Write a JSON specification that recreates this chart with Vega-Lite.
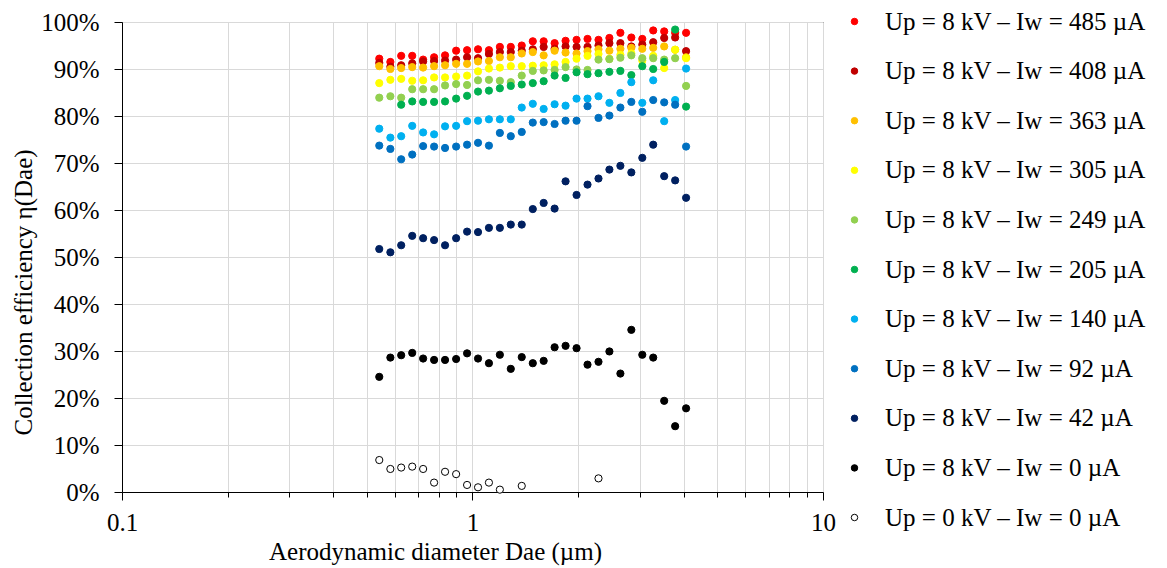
{
  "$schema": "https://vega.github.io/schema/vega-lite/v6.json",
  "autosize": {"type": "none"},
  "padding": {"left": 122, "top": 22, "right": 344, "bottom": 76},
  "width": 701,
  "height": 470,
  "background": "white",
  "config": {
    "view": {"stroke": "#000000", "strokeWidth": 1},
    "font": "Liberation Serif",
    "axis": {"labelFont": "Liberation Serif", "titleFont": "Liberation Serif", "labelFontSize": 25, "titleFontSize": 25, "labelColor": "#000000", "titleColor": "#000000", "titleFontWeight": "normal", "domainColor": "#000000", "domainWidth": 1, "tickColor": "#000000", "tickWidth": 1, "gridColor": "#D9D9D9", "gridWidth": 1},
    "legend": {"labelFont": "Liberation Serif", "labelFontSize": 25, "labelColor": "#000000", "labelLimit": 400}
  },
  "datasets": {
    "pts": [
      {"series": "Up = 8 kV – Iw = 485 µA", "d": 0.542, "e": 92.2},
      {"series": "Up = 8 kV – Iw = 485 µA", "d": 0.583, "e": 91.5},
      {"series": "Up = 8 kV – Iw = 485 µA", "d": 0.626, "e": 92.8},
      {"series": "Up = 8 kV – Iw = 485 µA", "d": 0.673, "e": 92.8},
      {"series": "Up = 8 kV – Iw = 485 µA", "d": 0.723, "e": 92.0},
      {"series": "Up = 8 kV – Iw = 485 µA", "d": 0.777, "e": 92.5},
      {"series": "Up = 8 kV – Iw = 485 µA", "d": 0.835, "e": 92.9},
      {"series": "Up = 8 kV – Iw = 485 µA", "d": 0.898, "e": 93.9},
      {"series": "Up = 8 kV – Iw = 485 µA", "d": 0.965, "e": 94.0},
      {"series": "Up = 8 kV – Iw = 485 µA", "d": 1.037, "e": 94.2},
      {"series": "Up = 8 kV – Iw = 485 µA", "d": 1.114, "e": 94.0},
      {"series": "Up = 8 kV – Iw = 485 µA", "d": 1.197, "e": 94.7},
      {"series": "Up = 8 kV – Iw = 485 µA", "d": 1.286, "e": 94.7},
      {"series": "Up = 8 kV – Iw = 485 µA", "d": 1.382, "e": 95.0},
      {"series": "Up = 8 kV – Iw = 485 µA", "d": 1.486, "e": 95.9},
      {"series": "Up = 8 kV – Iw = 485 µA", "d": 1.596, "e": 95.9},
      {"series": "Up = 8 kV – Iw = 485 µA", "d": 1.715, "e": 95.5},
      {"series": "Up = 8 kV – Iw = 485 µA", "d": 1.843, "e": 96.0},
      {"series": "Up = 8 kV – Iw = 485 µA", "d": 1.981, "e": 96.2},
      {"series": "Up = 8 kV – Iw = 485 µA", "d": 2.129, "e": 96.4},
      {"series": "Up = 8 kV – Iw = 485 µA", "d": 2.288, "e": 96.2},
      {"series": "Up = 8 kV – Iw = 485 µA", "d": 2.458, "e": 96.6},
      {"series": "Up = 8 kV – Iw = 485 µA", "d": 2.642, "e": 97.7},
      {"series": "Up = 8 kV – Iw = 485 µA", "d": 2.839, "e": 96.7},
      {"series": "Up = 8 kV – Iw = 485 µA", "d": 3.051, "e": 96.4},
      {"series": "Up = 8 kV – Iw = 485 µA", "d": 3.278, "e": 98.2},
      {"series": "Up = 8 kV – Iw = 485 µA", "d": 3.523, "e": 98.0},
      {"series": "Up = 8 kV – Iw = 485 µA", "d": 3.786, "e": 97.7},
      {"series": "Up = 8 kV – Iw = 485 µA", "d": 4.068, "e": 97.7},
      {"series": "Up = 8 kV – Iw = 408 µA", "d": 0.542, "e": 91.3},
      {"series": "Up = 8 kV – Iw = 408 µA", "d": 0.583, "e": 90.5},
      {"series": "Up = 8 kV – Iw = 408 µA", "d": 0.626, "e": 90.8},
      {"series": "Up = 8 kV – Iw = 408 µA", "d": 0.673, "e": 91.2},
      {"series": "Up = 8 kV – Iw = 408 µA", "d": 0.723, "e": 91.6},
      {"series": "Up = 8 kV – Iw = 408 µA", "d": 0.777, "e": 91.7},
      {"series": "Up = 8 kV – Iw = 408 µA", "d": 0.835, "e": 91.8},
      {"series": "Up = 8 kV – Iw = 408 µA", "d": 0.898, "e": 92.0},
      {"series": "Up = 8 kV – Iw = 408 µA", "d": 0.965, "e": 92.5},
      {"series": "Up = 8 kV – Iw = 408 µA", "d": 1.037, "e": 92.3},
      {"series": "Up = 8 kV – Iw = 408 µA", "d": 1.114, "e": 93.2},
      {"series": "Up = 8 kV – Iw = 408 µA", "d": 1.197, "e": 93.6},
      {"series": "Up = 8 kV – Iw = 408 µA", "d": 1.286, "e": 93.6},
      {"series": "Up = 8 kV – Iw = 408 µA", "d": 1.382, "e": 93.9},
      {"series": "Up = 8 kV – Iw = 408 µA", "d": 1.486, "e": 94.2},
      {"series": "Up = 8 kV – Iw = 408 µA", "d": 1.596, "e": 94.7},
      {"series": "Up = 8 kV – Iw = 408 µA", "d": 1.715, "e": 94.3},
      {"series": "Up = 8 kV – Iw = 408 µA", "d": 1.843, "e": 94.8},
      {"series": "Up = 8 kV – Iw = 408 µA", "d": 1.981, "e": 94.7},
      {"series": "Up = 8 kV – Iw = 408 µA", "d": 2.129, "e": 94.7},
      {"series": "Up = 8 kV – Iw = 408 µA", "d": 2.288, "e": 95.0},
      {"series": "Up = 8 kV – Iw = 408 µA", "d": 2.458, "e": 95.5},
      {"series": "Up = 8 kV – Iw = 408 µA", "d": 2.642, "e": 95.5},
      {"series": "Up = 8 kV – Iw = 408 µA", "d": 2.839, "e": 94.8},
      {"series": "Up = 8 kV – Iw = 408 µA", "d": 3.051, "e": 95.2},
      {"series": "Up = 8 kV – Iw = 408 µA", "d": 3.278, "e": 95.7},
      {"series": "Up = 8 kV – Iw = 408 µA", "d": 3.523, "e": 96.6},
      {"series": "Up = 8 kV – Iw = 408 µA", "d": 3.786, "e": 96.7},
      {"series": "Up = 8 kV – Iw = 408 µA", "d": 4.068, "e": 93.8},
      {"series": "Up = 8 kV – Iw = 363 µA", "d": 0.542, "e": 90.6},
      {"series": "Up = 8 kV – Iw = 363 µA", "d": 0.583, "e": 90.0},
      {"series": "Up = 8 kV – Iw = 363 µA", "d": 0.626, "e": 90.2},
      {"series": "Up = 8 kV – Iw = 363 µA", "d": 0.673, "e": 90.4},
      {"series": "Up = 8 kV – Iw = 363 µA", "d": 0.723, "e": 90.3},
      {"series": "Up = 8 kV – Iw = 363 µA", "d": 0.777, "e": 90.6},
      {"series": "Up = 8 kV – Iw = 363 µA", "d": 0.835, "e": 90.8},
      {"series": "Up = 8 kV – Iw = 363 µA", "d": 0.898, "e": 91.1},
      {"series": "Up = 8 kV – Iw = 363 µA", "d": 0.965, "e": 91.1},
      {"series": "Up = 8 kV – Iw = 363 µA", "d": 1.037, "e": 91.6},
      {"series": "Up = 8 kV – Iw = 363 µA", "d": 1.114, "e": 91.7},
      {"series": "Up = 8 kV – Iw = 363 µA", "d": 1.197, "e": 92.5},
      {"series": "Up = 8 kV – Iw = 363 µA", "d": 1.286, "e": 92.5},
      {"series": "Up = 8 kV – Iw = 363 µA", "d": 1.382, "e": 93.3},
      {"series": "Up = 8 kV – Iw = 363 µA", "d": 1.486, "e": 93.6},
      {"series": "Up = 8 kV – Iw = 363 µA", "d": 1.596, "e": 92.9},
      {"series": "Up = 8 kV – Iw = 363 µA", "d": 1.715, "e": 93.9},
      {"series": "Up = 8 kV – Iw = 363 µA", "d": 1.843, "e": 93.5},
      {"series": "Up = 8 kV – Iw = 363 µA", "d": 1.981, "e": 93.3},
      {"series": "Up = 8 kV – Iw = 363 µA", "d": 2.129, "e": 93.8},
      {"series": "Up = 8 kV – Iw = 363 µA", "d": 2.288, "e": 94.2},
      {"series": "Up = 8 kV – Iw = 363 µA", "d": 2.458, "e": 93.9},
      {"series": "Up = 8 kV – Iw = 363 µA", "d": 2.642, "e": 94.3},
      {"series": "Up = 8 kV – Iw = 363 µA", "d": 2.839, "e": 94.5},
      {"series": "Up = 8 kV – Iw = 363 µA", "d": 3.051, "e": 94.3},
      {"series": "Up = 8 kV – Iw = 363 µA", "d": 3.278, "e": 94.5},
      {"series": "Up = 8 kV – Iw = 363 µA", "d": 3.523, "e": 94.8},
      {"series": "Up = 8 kV – Iw = 363 µA", "d": 3.786, "e": 94.1},
      {"series": "Up = 8 kV – Iw = 363 µA", "d": 4.068, "e": 92.5},
      {"series": "Up = 8 kV – Iw = 305 µA", "d": 0.542, "e": 87.0},
      {"series": "Up = 8 kV – Iw = 305 µA", "d": 0.583, "e": 87.7},
      {"series": "Up = 8 kV – Iw = 305 µA", "d": 0.626, "e": 87.9},
      {"series": "Up = 8 kV – Iw = 305 µA", "d": 0.673, "e": 87.5},
      {"series": "Up = 8 kV – Iw = 305 µA", "d": 0.723, "e": 87.6},
      {"series": "Up = 8 kV – Iw = 305 µA", "d": 0.777, "e": 88.2},
      {"series": "Up = 8 kV – Iw = 305 µA", "d": 0.835, "e": 88.2},
      {"series": "Up = 8 kV – Iw = 305 µA", "d": 0.898, "e": 88.4},
      {"series": "Up = 8 kV – Iw = 305 µA", "d": 0.965, "e": 88.6},
      {"series": "Up = 8 kV – Iw = 305 µA", "d": 1.037, "e": 89.5},
      {"series": "Up = 8 kV – Iw = 305 µA", "d": 1.114, "e": 90.1},
      {"series": "Up = 8 kV – Iw = 305 µA", "d": 1.197, "e": 90.3},
      {"series": "Up = 8 kV – Iw = 305 µA", "d": 1.286, "e": 90.6},
      {"series": "Up = 8 kV – Iw = 305 µA", "d": 1.382, "e": 90.6},
      {"series": "Up = 8 kV – Iw = 305 µA", "d": 1.486, "e": 90.7},
      {"series": "Up = 8 kV – Iw = 305 µA", "d": 1.596, "e": 90.8},
      {"series": "Up = 8 kV – Iw = 305 µA", "d": 1.715, "e": 91.0},
      {"series": "Up = 8 kV – Iw = 305 µA", "d": 1.843, "e": 91.5},
      {"series": "Up = 8 kV – Iw = 305 µA", "d": 1.981, "e": 92.2},
      {"series": "Up = 8 kV – Iw = 305 µA", "d": 2.129, "e": 92.8},
      {"series": "Up = 8 kV – Iw = 305 µA", "d": 2.288, "e": 93.2},
      {"series": "Up = 8 kV – Iw = 305 µA", "d": 2.458, "e": 92.2},
      {"series": "Up = 8 kV – Iw = 305 µA", "d": 2.642, "e": 93.0},
      {"series": "Up = 8 kV – Iw = 305 µA", "d": 2.839, "e": 93.3},
      {"series": "Up = 8 kV – Iw = 305 µA", "d": 3.051, "e": 91.8},
      {"series": "Up = 8 kV – Iw = 305 µA", "d": 3.278, "e": 92.8},
      {"series": "Up = 8 kV – Iw = 305 µA", "d": 3.523, "e": 90.2},
      {"series": "Up = 8 kV – Iw = 305 µA", "d": 3.786, "e": 94.1},
      {"series": "Up = 8 kV – Iw = 305 µA", "d": 4.068, "e": 92.3},
      {"series": "Up = 8 kV – Iw = 249 µA", "d": 0.542, "e": 83.9},
      {"series": "Up = 8 kV – Iw = 249 µA", "d": 0.583, "e": 84.2},
      {"series": "Up = 8 kV – Iw = 249 µA", "d": 0.626, "e": 83.9},
      {"series": "Up = 8 kV – Iw = 249 µA", "d": 0.673, "e": 85.7},
      {"series": "Up = 8 kV – Iw = 249 µA", "d": 0.723, "e": 85.7},
      {"series": "Up = 8 kV – Iw = 249 µA", "d": 0.777, "e": 85.7},
      {"series": "Up = 8 kV – Iw = 249 µA", "d": 0.835, "e": 86.5},
      {"series": "Up = 8 kV – Iw = 249 µA", "d": 0.898, "e": 86.8},
      {"series": "Up = 8 kV – Iw = 249 µA", "d": 0.965, "e": 86.6},
      {"series": "Up = 8 kV – Iw = 249 µA", "d": 1.037, "e": 87.6},
      {"series": "Up = 8 kV – Iw = 249 µA", "d": 1.114, "e": 87.7},
      {"series": "Up = 8 kV – Iw = 249 µA", "d": 1.197, "e": 87.5},
      {"series": "Up = 8 kV – Iw = 249 µA", "d": 1.286, "e": 87.2},
      {"series": "Up = 8 kV – Iw = 249 µA", "d": 1.382, "e": 88.6},
      {"series": "Up = 8 kV – Iw = 249 µA", "d": 1.486, "e": 89.6},
      {"series": "Up = 8 kV – Iw = 249 µA", "d": 1.596, "e": 89.7},
      {"series": "Up = 8 kV – Iw = 249 µA", "d": 1.715, "e": 89.8},
      {"series": "Up = 8 kV – Iw = 249 µA", "d": 1.843, "e": 90.4},
      {"series": "Up = 8 kV – Iw = 249 µA", "d": 1.981, "e": 89.9},
      {"series": "Up = 8 kV – Iw = 249 µA", "d": 2.129, "e": 89.8},
      {"series": "Up = 8 kV – Iw = 249 µA", "d": 2.288, "e": 92.0},
      {"series": "Up = 8 kV – Iw = 249 µA", "d": 2.458, "e": 92.1},
      {"series": "Up = 8 kV – Iw = 249 µA", "d": 2.642, "e": 92.4},
      {"series": "Up = 8 kV – Iw = 249 µA", "d": 2.839, "e": 92.9},
      {"series": "Up = 8 kV – Iw = 249 µA", "d": 3.051, "e": 92.3},
      {"series": "Up = 8 kV – Iw = 249 µA", "d": 3.278, "e": 92.3},
      {"series": "Up = 8 kV – Iw = 249 µA", "d": 3.523, "e": 92.0},
      {"series": "Up = 8 kV – Iw = 249 µA", "d": 3.786, "e": 92.3},
      {"series": "Up = 8 kV – Iw = 249 µA", "d": 4.068, "e": 86.4},
      {"series": "Up = 8 kV – Iw = 205 µA", "d": 0.626, "e": 82.4},
      {"series": "Up = 8 kV – Iw = 205 µA", "d": 0.673, "e": 83.1},
      {"series": "Up = 8 kV – Iw = 205 µA", "d": 0.723, "e": 83.0},
      {"series": "Up = 8 kV – Iw = 205 µA", "d": 0.777, "e": 83.0},
      {"series": "Up = 8 kV – Iw = 205 µA", "d": 0.835, "e": 83.1},
      {"series": "Up = 8 kV – Iw = 205 µA", "d": 0.898, "e": 83.7},
      {"series": "Up = 8 kV – Iw = 205 µA", "d": 0.965, "e": 84.3},
      {"series": "Up = 8 kV – Iw = 205 µA", "d": 1.037, "e": 85.2},
      {"series": "Up = 8 kV – Iw = 205 µA", "d": 1.114, "e": 85.4},
      {"series": "Up = 8 kV – Iw = 205 µA", "d": 1.197, "e": 85.9},
      {"series": "Up = 8 kV – Iw = 205 µA", "d": 1.286, "e": 86.4},
      {"series": "Up = 8 kV – Iw = 205 µA", "d": 1.382, "e": 86.7},
      {"series": "Up = 8 kV – Iw = 205 µA", "d": 1.486, "e": 87.0},
      {"series": "Up = 8 kV – Iw = 205 µA", "d": 1.596, "e": 87.4},
      {"series": "Up = 8 kV – Iw = 205 µA", "d": 1.715, "e": 88.6},
      {"series": "Up = 8 kV – Iw = 205 µA", "d": 1.843, "e": 88.1},
      {"series": "Up = 8 kV – Iw = 205 µA", "d": 1.981, "e": 89.3},
      {"series": "Up = 8 kV – Iw = 205 µA", "d": 2.129, "e": 88.9},
      {"series": "Up = 8 kV – Iw = 205 µA", "d": 2.288, "e": 89.1},
      {"series": "Up = 8 kV – Iw = 205 µA", "d": 2.458, "e": 89.4},
      {"series": "Up = 8 kV – Iw = 205 µA", "d": 2.642, "e": 89.6},
      {"series": "Up = 8 kV – Iw = 205 µA", "d": 2.839, "e": 88.7},
      {"series": "Up = 8 kV – Iw = 205 µA", "d": 3.051, "e": 90.6},
      {"series": "Up = 8 kV – Iw = 205 µA", "d": 3.278, "e": 90.0},
      {"series": "Up = 8 kV – Iw = 205 µA", "d": 3.523, "e": 91.5},
      {"series": "Up = 8 kV – Iw = 205 µA", "d": 3.786, "e": 98.4},
      {"series": "Up = 8 kV – Iw = 205 µA", "d": 4.068, "e": 82.0},
      {"series": "Up = 8 kV – Iw = 140 µA", "d": 0.542, "e": 77.3},
      {"series": "Up = 8 kV – Iw = 140 µA", "d": 0.583, "e": 75.4},
      {"series": "Up = 8 kV – Iw = 140 µA", "d": 0.626, "e": 75.7},
      {"series": "Up = 8 kV – Iw = 140 µA", "d": 0.673, "e": 77.9},
      {"series": "Up = 8 kV – Iw = 140 µA", "d": 0.723, "e": 76.5},
      {"series": "Up = 8 kV – Iw = 140 µA", "d": 0.777, "e": 76.1},
      {"series": "Up = 8 kV – Iw = 140 µA", "d": 0.835, "e": 77.8},
      {"series": "Up = 8 kV – Iw = 140 µA", "d": 0.898, "e": 77.9},
      {"series": "Up = 8 kV – Iw = 140 µA", "d": 0.965, "e": 78.9},
      {"series": "Up = 8 kV – Iw = 140 µA", "d": 1.037, "e": 79.0},
      {"series": "Up = 8 kV – Iw = 140 µA", "d": 1.114, "e": 79.3},
      {"series": "Up = 8 kV – Iw = 140 µA", "d": 1.197, "e": 79.3},
      {"series": "Up = 8 kV – Iw = 140 µA", "d": 1.286, "e": 79.3},
      {"series": "Up = 8 kV – Iw = 140 µA", "d": 1.382, "e": 81.8},
      {"series": "Up = 8 kV – Iw = 140 µA", "d": 1.486, "e": 82.6},
      {"series": "Up = 8 kV – Iw = 140 µA", "d": 1.596, "e": 81.5},
      {"series": "Up = 8 kV – Iw = 140 µA", "d": 1.715, "e": 82.5},
      {"series": "Up = 8 kV – Iw = 140 µA", "d": 1.843, "e": 82.2},
      {"series": "Up = 8 kV – Iw = 140 µA", "d": 1.981, "e": 83.7},
      {"series": "Up = 8 kV – Iw = 140 µA", "d": 2.129, "e": 83.7},
      {"series": "Up = 8 kV – Iw = 140 µA", "d": 2.288, "e": 84.2},
      {"series": "Up = 8 kV – Iw = 140 µA", "d": 2.458, "e": 82.8},
      {"series": "Up = 8 kV – Iw = 140 µA", "d": 2.642, "e": 84.9},
      {"series": "Up = 8 kV – Iw = 140 µA", "d": 2.839, "e": 87.2},
      {"series": "Up = 8 kV – Iw = 140 µA", "d": 3.051, "e": 82.8},
      {"series": "Up = 8 kV – Iw = 140 µA", "d": 3.278, "e": 87.6},
      {"series": "Up = 8 kV – Iw = 140 µA", "d": 3.523, "e": 78.9},
      {"series": "Up = 8 kV – Iw = 140 µA", "d": 3.786, "e": 83.4},
      {"series": "Up = 8 kV – Iw = 140 µA", "d": 4.068, "e": 90.1},
      {"series": "Up = 8 kV – Iw = 92 µA", "d": 0.542, "e": 73.7},
      {"series": "Up = 8 kV – Iw = 92 µA", "d": 0.583, "e": 73.0},
      {"series": "Up = 8 kV – Iw = 92 µA", "d": 0.626, "e": 70.8},
      {"series": "Up = 8 kV – Iw = 92 µA", "d": 0.673, "e": 71.8},
      {"series": "Up = 8 kV – Iw = 92 µA", "d": 0.723, "e": 73.6},
      {"series": "Up = 8 kV – Iw = 92 µA", "d": 0.777, "e": 73.5},
      {"series": "Up = 8 kV – Iw = 92 µA", "d": 0.835, "e": 73.2},
      {"series": "Up = 8 kV – Iw = 92 µA", "d": 0.898, "e": 73.5},
      {"series": "Up = 8 kV – Iw = 92 µA", "d": 0.965, "e": 73.9},
      {"series": "Up = 8 kV – Iw = 92 µA", "d": 1.037, "e": 74.3},
      {"series": "Up = 8 kV – Iw = 92 µA", "d": 1.114, "e": 73.7},
      {"series": "Up = 8 kV – Iw = 92 µA", "d": 1.197, "e": 76.4},
      {"series": "Up = 8 kV – Iw = 92 µA", "d": 1.286, "e": 75.7},
      {"series": "Up = 8 kV – Iw = 92 µA", "d": 1.382, "e": 76.6},
      {"series": "Up = 8 kV – Iw = 92 µA", "d": 1.486, "e": 78.6},
      {"series": "Up = 8 kV – Iw = 92 µA", "d": 1.596, "e": 78.7},
      {"series": "Up = 8 kV – Iw = 92 µA", "d": 1.715, "e": 78.3},
      {"series": "Up = 8 kV – Iw = 92 µA", "d": 1.843, "e": 79.0},
      {"series": "Up = 8 kV – Iw = 92 µA", "d": 1.981, "e": 79.0},
      {"series": "Up = 8 kV – Iw = 92 µA", "d": 2.129, "e": 82.1},
      {"series": "Up = 8 kV – Iw = 92 µA", "d": 2.288, "e": 79.6},
      {"series": "Up = 8 kV – Iw = 92 µA", "d": 2.458, "e": 80.1},
      {"series": "Up = 8 kV – Iw = 92 µA", "d": 2.642, "e": 81.8},
      {"series": "Up = 8 kV – Iw = 92 µA", "d": 2.839, "e": 83.0},
      {"series": "Up = 8 kV – Iw = 92 µA", "d": 3.051, "e": 80.9},
      {"series": "Up = 8 kV – Iw = 92 µA", "d": 3.278, "e": 83.4},
      {"series": "Up = 8 kV – Iw = 92 µA", "d": 3.523, "e": 82.9},
      {"series": "Up = 8 kV – Iw = 92 µA", "d": 3.786, "e": 82.4},
      {"series": "Up = 8 kV – Iw = 92 µA", "d": 4.068, "e": 73.5},
      {"series": "Up = 8 kV – Iw = 42 µA", "d": 0.542, "e": 51.7},
      {"series": "Up = 8 kV – Iw = 42 µA", "d": 0.583, "e": 51.0},
      {"series": "Up = 8 kV – Iw = 42 µA", "d": 0.626, "e": 52.5},
      {"series": "Up = 8 kV – Iw = 42 µA", "d": 0.673, "e": 54.5},
      {"series": "Up = 8 kV – Iw = 42 µA", "d": 0.723, "e": 54.0},
      {"series": "Up = 8 kV – Iw = 42 µA", "d": 0.777, "e": 53.6},
      {"series": "Up = 8 kV – Iw = 42 µA", "d": 0.835, "e": 52.5},
      {"series": "Up = 8 kV – Iw = 42 µA", "d": 0.898, "e": 54.0},
      {"series": "Up = 8 kV – Iw = 42 µA", "d": 0.965, "e": 55.4},
      {"series": "Up = 8 kV – Iw = 42 µA", "d": 1.037, "e": 55.3},
      {"series": "Up = 8 kV – Iw = 42 µA", "d": 1.114, "e": 56.2},
      {"series": "Up = 8 kV – Iw = 42 µA", "d": 1.197, "e": 56.2},
      {"series": "Up = 8 kV – Iw = 42 µA", "d": 1.286, "e": 56.9},
      {"series": "Up = 8 kV – Iw = 42 µA", "d": 1.382, "e": 56.9},
      {"series": "Up = 8 kV – Iw = 42 µA", "d": 1.486, "e": 60.2},
      {"series": "Up = 8 kV – Iw = 42 µA", "d": 1.596, "e": 61.5},
      {"series": "Up = 8 kV – Iw = 42 µA", "d": 1.715, "e": 60.3},
      {"series": "Up = 8 kV – Iw = 42 µA", "d": 1.843, "e": 66.1},
      {"series": "Up = 8 kV – Iw = 42 µA", "d": 1.981, "e": 63.2},
      {"series": "Up = 8 kV – Iw = 42 µA", "d": 2.129, "e": 65.4},
      {"series": "Up = 8 kV – Iw = 42 µA", "d": 2.288, "e": 66.7},
      {"series": "Up = 8 kV – Iw = 42 µA", "d": 2.458, "e": 68.6},
      {"series": "Up = 8 kV – Iw = 42 µA", "d": 2.642, "e": 69.4},
      {"series": "Up = 8 kV – Iw = 42 µA", "d": 2.839, "e": 68.0},
      {"series": "Up = 8 kV – Iw = 42 µA", "d": 3.051, "e": 71.1},
      {"series": "Up = 8 kV – Iw = 42 µA", "d": 3.278, "e": 73.9},
      {"series": "Up = 8 kV – Iw = 42 µA", "d": 3.523, "e": 67.2},
      {"series": "Up = 8 kV – Iw = 42 µA", "d": 3.786, "e": 66.3},
      {"series": "Up = 8 kV – Iw = 42 µA", "d": 4.068, "e": 62.6},
      {"series": "Up = 8 kV – Iw = 0 µA", "d": 0.542, "e": 24.5},
      {"series": "Up = 8 kV – Iw = 0 µA", "d": 0.583, "e": 28.6},
      {"series": "Up = 8 kV – Iw = 0 µA", "d": 0.626, "e": 29.1},
      {"series": "Up = 8 kV – Iw = 0 µA", "d": 0.673, "e": 29.6},
      {"series": "Up = 8 kV – Iw = 0 µA", "d": 0.723, "e": 28.4},
      {"series": "Up = 8 kV – Iw = 0 µA", "d": 0.777, "e": 28.1},
      {"series": "Up = 8 kV – Iw = 0 µA", "d": 0.835, "e": 28.1},
      {"series": "Up = 8 kV – Iw = 0 µA", "d": 0.898, "e": 28.3},
      {"series": "Up = 8 kV – Iw = 0 µA", "d": 0.965, "e": 29.5},
      {"series": "Up = 8 kV – Iw = 0 µA", "d": 1.037, "e": 28.4},
      {"series": "Up = 8 kV – Iw = 0 µA", "d": 1.114, "e": 27.4},
      {"series": "Up = 8 kV – Iw = 0 µA", "d": 1.197, "e": 29.2},
      {"series": "Up = 8 kV – Iw = 0 µA", "d": 1.286, "e": 26.2},
      {"series": "Up = 8 kV – Iw = 0 µA", "d": 1.382, "e": 28.7},
      {"series": "Up = 8 kV – Iw = 0 µA", "d": 1.486, "e": 27.4},
      {"series": "Up = 8 kV – Iw = 0 µA", "d": 1.596, "e": 27.9},
      {"series": "Up = 8 kV – Iw = 0 µA", "d": 1.715, "e": 30.8},
      {"series": "Up = 8 kV – Iw = 0 µA", "d": 1.843, "e": 31.1},
      {"series": "Up = 8 kV – Iw = 0 µA", "d": 1.981, "e": 30.6},
      {"series": "Up = 8 kV – Iw = 0 µA", "d": 2.129, "e": 27.1},
      {"series": "Up = 8 kV – Iw = 0 µA", "d": 2.288, "e": 27.7},
      {"series": "Up = 8 kV – Iw = 0 µA", "d": 2.458, "e": 29.9},
      {"series": "Up = 8 kV – Iw = 0 µA", "d": 2.642, "e": 25.2},
      {"series": "Up = 8 kV – Iw = 0 µA", "d": 2.839, "e": 34.5},
      {"series": "Up = 8 kV – Iw = 0 µA", "d": 3.051, "e": 29.2},
      {"series": "Up = 8 kV – Iw = 0 µA", "d": 3.278, "e": 28.6},
      {"series": "Up = 8 kV – Iw = 0 µA", "d": 3.523, "e": 19.4},
      {"series": "Up = 8 kV – Iw = 0 µA", "d": 3.786, "e": 14.0},
      {"series": "Up = 8 kV – Iw = 0 µA", "d": 4.068, "e": 17.8},
      {"series": "Up = 0 kV – Iw = 0 µA", "d": 0.542, "e": 6.8},
      {"series": "Up = 0 kV – Iw = 0 µA", "d": 0.583, "e": 4.9},
      {"series": "Up = 0 kV – Iw = 0 µA", "d": 0.626, "e": 5.2},
      {"series": "Up = 0 kV – Iw = 0 µA", "d": 0.673, "e": 5.4},
      {"series": "Up = 0 kV – Iw = 0 µA", "d": 0.723, "e": 4.9},
      {"series": "Up = 0 kV – Iw = 0 µA", "d": 0.777, "e": 2.0},
      {"series": "Up = 0 kV – Iw = 0 µA", "d": 0.835, "e": 4.3},
      {"series": "Up = 0 kV – Iw = 0 µA", "d": 0.898, "e": 3.8},
      {"series": "Up = 0 kV – Iw = 0 µA", "d": 0.965, "e": 1.5},
      {"series": "Up = 0 kV – Iw = 0 µA", "d": 1.037, "e": 1.0},
      {"series": "Up = 0 kV – Iw = 0 µA", "d": 1.114, "e": 2.0},
      {"series": "Up = 0 kV – Iw = 0 µA", "d": 1.197, "e": 0.5},
      {"series": "Up = 0 kV – Iw = 0 µA", "d": 1.382, "e": 1.3},
      {"series": "Up = 0 kV – Iw = 0 µA", "d": 2.288, "e": 2.9}
    ]
  },
  "data": {"name": "pts"},
  "mark": {"type": "point", "filled": true, "size": 52, "strokeWidth": 1, "opacity": 1},
  "encoding": {
    "x": {
      "field": "d", "type": "quantitative",
      "scale": {"type": "log", "domain": [0.1, 10], "nice": false},
      "axis": {
        "title": "Aerodynamic diameter Dae (µm)",
        "values": [0.1, 0.2, 0.3, 0.4, 0.5, 0.6, 0.7, 0.8, 0.9, 1, 2, 3, 4, 5, 6, 7, 8, 9, 10],
        "format": "~g",
        "labelExpr": "(datum.label == '0.1' || datum.label == '1' || datum.label == '10') ? datum.label : ''",
        "tickSize": {"condition": {"test": "datum.value == 0.1 || datum.value == 1 || datum.value == 10", "value": 8}, "value": 5},
        "labelPadding": 10,
        "titleX": 313,
        "titleY": 67,
        "titleAlign": "center",
        "titleBaseline": "alphabetic",
        "labelFlush": false,
        "labelOverlap": false
      }
    },
    "y": {
      "field": "e", "type": "quantitative",
      "scale": {"domain": [0, 100], "nice": false},
      "axis": {
        "title": "Collection efficiency η(Dae)",
        "values": [0, 10, 20, 30, 40, 50, 60, 70, 80, 90, 100],
        "labelExpr": "datum.value + '%'",
        "tickSize": 8,
        "labelPadding": 15,
        "titleAngle": 270,
        "titleX": -91,
        "titleY": 270,
        "titleAlign": "center",
        "titleBaseline": "alphabetic"
      }
    },
    "fill": {
      "field": "series", "type": "nominal",
      "scale": {
        "domain": ["Up = 8 kV – Iw = 485 µA", "Up = 8 kV – Iw = 408 µA", "Up = 8 kV – Iw = 363 µA", "Up = 8 kV – Iw = 305 µA", "Up = 8 kV – Iw = 249 µA", "Up = 8 kV – Iw = 205 µA", "Up = 8 kV – Iw = 140 µA", "Up = 8 kV – Iw = 92 µA", "Up = 8 kV – Iw = 42 µA", "Up = 8 kV – Iw = 0 µA", "Up = 0 kV – Iw = 0 µA"],
        "range": ["#FF0000", "#C00000", "#FFC000", "#FFFF00", "#92D050", "#00B050", "#00B0F0", "#0070C0", "#002060", "#000000", "#FFFFFF"]
      },
      "legend": {"title": null, "orient": "none", "legendX": 720, "legendY": -13, "symbolType": "circle", "symbolSize": 42, "symbolStrokeWidth": 1, "labelOffset": 18, "rowPadding": 23.6}
    },
    "stroke": {
      "field": "series", "type": "nominal",
      "scale": {
        "domain": ["Up = 8 kV – Iw = 485 µA", "Up = 8 kV – Iw = 408 µA", "Up = 8 kV – Iw = 363 µA", "Up = 8 kV – Iw = 305 µA", "Up = 8 kV – Iw = 249 µA", "Up = 8 kV – Iw = 205 µA", "Up = 8 kV – Iw = 140 µA", "Up = 8 kV – Iw = 92 µA", "Up = 8 kV – Iw = 42 µA", "Up = 8 kV – Iw = 0 µA", "Up = 0 kV – Iw = 0 µA"],
        "range": ["#FF0000", "#C00000", "#FFC000", "#FFFF00", "#92D050", "#00B050", "#00B0F0", "#0070C0", "#002060", "#000000", "#000000"]
      },
      "legend": {"title": null, "orient": "none", "legendX": 720, "legendY": -13, "symbolType": "circle", "symbolSize": 42, "symbolStrokeWidth": 1, "labelOffset": 18, "rowPadding": 23.6}
    }
  }
}
